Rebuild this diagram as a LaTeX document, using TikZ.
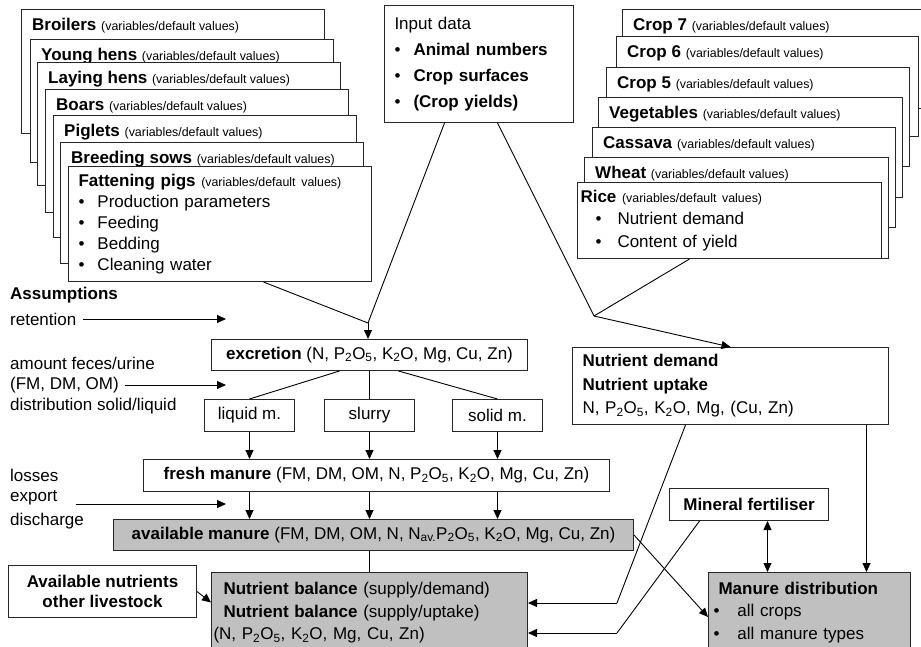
\documentclass[tikz,border=0pt]{standalone}
\usepackage{fontspec}
\setmainfont{Liberation Sans}
\usetikzlibrary{arrows.meta}
\definecolor{boxgray}{RGB}{192,192,192}
\tikzstyle{plainbox} = [rectangle, draw=black!85, line width=1pt, fill=white, anchor=north west, inner sep=0pt]
\tikzstyle{graybox} = [plainbox, fill=boxgray]
\tikzstyle{txt} = [inner sep=0pt, anchor=west]
\tikzstyle{line} = [line width=0.9pt]
\tikzstyle{arrow} = [line width=0.9pt, -{Triangle[length=9pt,width=8pt]}]
\tikzstyle{dblarrow} = [line width=0.9pt, {Triangle[length=9pt,width=8pt]}-{Triangle[length=9pt,width=8pt]}]
\newcommand{\vardef}{{\fontsize{12.4}{14}\selectfont(variables/default values)}}
\newcommand{\bul}{\makebox[19pt][l]{\textbullet}}
\newcommand{\low}[1]{\textsubscript{#1}}

\begin{document}
\begin{tikzpicture}[x=1pt, y=-1pt, font=\fontsize{17}{21}\selectfont]
	\useasboundingbox (0,0) rectangle (921,647);
	\clip (0,0) rectangle (921,647);

	% animal stack
	\foreach \nm/\x/\y/\h/\ttl in {broilers/21/9/124/Broilers, younghens/30/39/123/Young hens, layinghens/37/62/123/Laying hens, boars/45/89/123/Boars, piglets/53/115/122/Piglets, breeding/60/142/121/Breeding sows}{
		\node (\nm) [plainbox, minimum width=303pt, minimum height=\h pt] at (\x,\y) {};
		\node (\nm-title) [txt] at (\x+11,\y+17) {\textbf{\ttl} \vardef};
	}
	\node (fattening) [plainbox, minimum width=303pt, minimum height=115pt, text width=283pt, inner xsep=10pt, align=left] at (68,166) {\textbf{Fattening pigs} \vardef\\ \bul Production parameters\\ \bul Feeding\\ \bul Bedding\\ \bul Cleaning water};

	% input data
	\node (input) [plainbox, minimum width=189pt, minimum height=117pt, text width=169pt, inner xsep=10pt, align=left, font=\fontsize{17}{26}\selectfont] at (384,5) {Input data\\ \bul\textbf{Animal numbers}\\ \bul\textbf{Crop surfaces}\\ \bul\textbf{(Crop yields)}};

	% crop stack
	\foreach \nm/\x/\y/\h/\w/\ttl in {crop7/622/9/99/310/Crop 7, crop6/616/36/100/302/Crop 6, crop5/606/67/99/303/Crop 5, vegetables/598/97/100/304/Vegetables, cassava/592/127/100/303/Cassava, wheat/584/157/101/304/Wheat}{
		\node (\nm) [plainbox, minimum width=\w pt, minimum height=\h pt] at (\x,\y) {};
		\node (\nm-title) [txt] at (\x+11,\y+17) {\textbf{\ttl} \vardef};
	}
	\node (rice) [plainbox, minimum width=304pt, minimum height=76pt, text width=298pt, inner xsep=3pt, align=left, font=\fontsize{17}{22.5}\selectfont] at (577,182) {\textbf{Rice} \vardef\\ \hspace*{15pt}\makebox[22pt][l]{\textbullet}Nutrient demand\\ \hspace*{15pt}\makebox[22pt][l]{\textbullet}Content of yield};

	% assumptions
	\node (assump) [txt] at (10,295) {\textbf{Assumptions}};
	\node (retention) [txt] at (10,319) {retention};
	\node (feces) [txt] at (10,363) {amount feces/urine};
	\node (fmdmom) [txt] at (10,385) {(FM, DM, OM)};
	\node (distrib) [txt] at (10,406) {distribution solid/liquid};
	\node (losses) [txt] at (10,475) {losses};
	\node (export) [txt] at (10,498) {export};
	\node (discharge) [txt] at (10,521) {discharge};

	% manure chain
	\node (excretion) [plainbox, minimum width=316pt, minimum height=31pt] at (211,339) {\textbf{excretion} (N, P\low2O\low5, K\low2O, Mg, Cu, Zn)};
	\node (liquid) [plainbox, minimum width=90pt, minimum height=32pt] at (204,399) {liquid m.};
	\node (slurry) [plainbox, minimum width=90pt, minimum height=32pt] at (324,399) {slurry};
	\node (solid) [plainbox, minimum width=90pt, minimum height=32pt] at (452,399) {solid m.};
	\node (fresh) [plainbox, minimum width=466pt, minimum height=32pt] at (143,459) {\textbf{fresh manure} (FM, DM, OM, N, P\low2O\low5, K\low2O, Mg, Cu, Zn)};
	\node (avail) [graybox, minimum width=520pt, minimum height=31pt] at (113,519) {\textbf{available manure} (FM, DM, OM, N, N\low{av.}P\low2O\low5, K\low2O, Mg, Cu, Zn)};
	\node (livestock) [plainbox, minimum width=188pt, minimum height=52pt, align=center, font=\fontsize{17}{20}\selectfont] at (8,565) {\textbf{Available nutrients}\\ \textbf{other livestock}};
	\node (balance) [graybox, minimum width=316pt, minimum height=81pt, text width=312pt, inner xsep=2pt, align=left, font=\fontsize{17}{22.5}\selectfont] at (211,572) {\hspace*{10pt}\textbf{Nutrient balance} (supply/demand)\\ \hspace*{10pt}\textbf{Nutrient balance} (supply/uptake)\\ (N, P\low2O\low5, K\low2O, Mg, Cu, Zn)};

	% crop side
	\node (nd) [plainbox, minimum width=316pt, minimum height=77pt, text width=296pt, inner xsep=10pt, align=left, font=\fontsize{17}{23.5}\selectfont] at (572,347) {\textbf{Nutrient demand}\\ \textbf{Nutrient uptake}\\ N, P\low2O\low5, K\low2O, Mg, (Cu, Zn)};
	\node (mineral) [plainbox, minimum width=159pt, minimum height=32pt] at (669,488) {\textbf{Mineral fertiliser}};
	\node (md) [graybox, minimum width=202pt, minimum height=80pt, text width=192pt, inner xsep=5pt, align=left, font=\fontsize{17}{22.5}\selectfont] at (708,572) {\hspace*{5pt}\textbf{Manure distribution}\\ \makebox[24pt][l]{\textbullet}all crops\\ \makebox[24pt][l]{\textbullet}all manure types};

	% junctions
	\coordinate (jleft) at (368,323);
	\coordinate (jright) at (594,316);
	\coordinate (bend1) at (617,603);
	\coordinate (bend2) at (617,633);
	\coordinate (assump-end) at (226,0);
	\coordinate (export-arrow) at (226,504);

	% connectors
	\draw[arrow, shorten <=6pt] (retention.east) -- (retention.east -| assump-end);
	\draw[arrow, shorten <=6pt] (fmdmom.east) -- (fmdmom.east -| assump-end);
	\draw[arrow, shorten <=18pt] (export-arrow -| export.east) -- (export-arrow);
	\draw[line] ([xshift=43.5pt]fattening.south) -- (jleft);
	\draw[line] ([xshift=-34.5pt]input.south) -- (jleft);
	\draw[arrow] (jleft) -- (jleft |- excretion.north);
	\draw[line] ([xshift=18.5pt]input.south) -- (jright);
	\draw[line] ([xshift=-40pt]rice.south) -- (jright);
	\draw[arrow] (jright) -- (nd.north);
	\draw[line] ([xshift=-30pt]excretion.south) -- (liquid.north);
	\draw[line] (excretion.south) -- (slurry.north);
	\draw[line] ([xshift=29pt]excretion.south) -- (solid.north);
	\foreach \src in {liquid, slurry, solid}{
		\draw[arrow] (\src.south) -- (\src.south |- fresh.north);
		\draw[arrow] (\src.south |- fresh.south) -- (\src.south |- avail.north);
	}
	\draw[line] (slurry.south |- avail.south) -- (slurry.south |- balance.north);
	\draw[arrow] (livestock.east) -- ([yshift=10.5pt]balance.west);
	\draw[line] ([xshift=-45pt]nd.south) -- (bend1);
	\draw[arrow] (bend1) -- (bend1 -| balance.east);
	\draw[line] ([xshift=-49.5pt]mineral.south) -- (bend2);
	\draw[arrow] (bend2) -- (bend2 -| balance.east);
	\draw[arrow] ([xshift=136pt]nd.south) -- ([xshift=136pt]nd.south |- md.north);
	\draw[dblarrow] ([xshift=18.5pt]mineral.south) -- ([xshift=18.5pt]mineral.south |- md.north);
	\draw[arrow] (avail.east) -- ([yshift=-4.5pt]md.west);
\end{tikzpicture}
\end{document}
